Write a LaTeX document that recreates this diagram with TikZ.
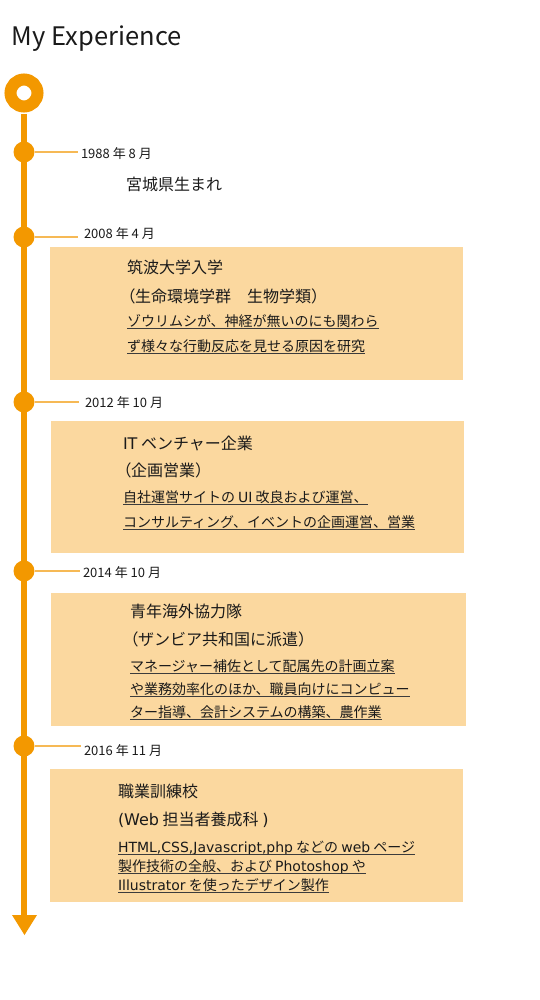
\documentclass[tikz,border=0pt]{standalone}
\usepackage{fontspec}
\setmainfont{Noto Sans CJK JP}
\newfontfamily\latfam{DejaVu Sans}
\newcommand\LatT[1]{{\latfam #1}}
\newcommand\OpenP{{\addfontfeature{RawFeature=+palt}（}}
\definecolor{orng}{HTML}{F39800}
\definecolor{boxc}{HTML}{FBD89F}
\definecolor{txt}{HTML}{1A1A1A}
\definecolor{conc}{HTML}{F6B955}
\newcommand\ULine[1]{\draw[ulline] ([yshift=-2pt]#1.base west) -- ([yshift=-2pt]#1.base east);}
\begin{document}
\begin{tikzpicture}[x=1pt,y=-1pt,
  every node/.style={inner sep=0pt, outer sep=0pt, text=txt},
  ttl/.style={anchor=base west, font=\fontsize{25.5}{30}\selectfont},
  date/.style={anchor=base west, font=\fontsize{13}{15}\selectfont},
  head/.style={anchor=base west, font=\fontsize{16}{19}\selectfont},
  body/.style={anchor=base west, font=\fontsize{14}{17}\selectfont},
  card/.style={fill=boxc},
  dot/.style={circle, fill=orng, minimum size=21pt},
  ring/.style={circle, draw=orng, line width=12pt, minimum size=27pt},
  conn/.style={draw=conc, line width=1.3pt},
  spine/.style={draw=orng, line width=6.5pt},
  ulline/.style={draw=txt!85, line width=1pt}
]
\useasboundingbox (0,0) rectangle (540,1000);

% title
\node[ttl] (title) at (12,46) {My Experience};

% cards
\path[card] (50,247) rectangle (463,380);
\path[card] (51,421) rectangle (464,553);
\path[card] (51,593) rectangle (466,726);
\path[card] (50,769) rectangle (463,902);

% spine
\coordinate (top) at (24,114);
\coordinate (tip) at (24,917);
\draw[spine] (top) -- (tip);
\fill[orng] (12,915) -- (37,915) -- (24.5,935) -- cycle;
\node[ring] (start) at (24,93) {};

% dots, connectors, dates
\foreach \i/\y/\cx in {1/152/78, 2/237/78, 3/402/79, 4/571/80, 5/746/81}{
  \coordinate (c\i) at (\cx,\y);
  \node[dot] (d\i) at (24,\y) {};
  \draw[conn] (d\i.east) -- (c\i);
}
\node[date] (t1) at (81,159) {1988 年 8 月};
\node[date] (t2) at (84,238) {2008 年 4 月};
\node[date] (t3) at (85,407) {2012 年 10 月};
\node[date] (t4) at (83,577) {2014 年 10 月};
\node[date] (t5) at (84,755) {2016 年 11 月};

% 1988
\node[head] (e1) at (126,191) {宮城県生まれ};

% 2008
\node[head] (a1) at (127,273) {筑波大学入学};
\node[head] (a2) at (127,302) {\OpenP 生命環境学群　生物学類）};
\node[body] (a3) at (127,326) {ゾウリムシが、神経が無いのにも関わら};
\node[body] (a4) at (127,351) {ず様々な行動反応を見せる原因を研究};
\ULine{a3}\ULine{a4}

% 2012
\node[head] (b1) at (123,449) {\LatT{IT} ベンチャー企業};
\node[head] (b2) at (123,476) {\OpenP 企画営業）};
\node[body] (b3) at (123,502) {自社運営サイトの \LatT{UI} 改良および運営、};
\node[body] (b4) at (123,527) {コンサルティング、イベントの企画運営、営業};
\ULine{b3}\ULine{b4}

% 2014
\node[head] (g1) at (130,617) {青年海外協力隊};
\node[head] (g2) at (130,645) {\OpenP ザンビア共和国に派遣）};
\node[body] (g3) at (130,671) {マネージャー補佐として配属先の計画立案};
\node[body] (g4) at (130,694) {や業務効率化のほか、職員向けにコンピュー};
\node[body] (g5) at (130,717) {ター指導、会計システムの構築、農作業};
\ULine{g3}\ULine{g4}\ULine{g5}

% 2016
\node[head] (h1) at (118,797) {職業訓練校};
\node[head] (h2) at (118,825) {\LatT{(Web} 担当者養成科 \LatT{)}};
\node[body] (h3) at (118,852) {\LatT{HTML,CSS,Javascript,php} などの \LatT{web} ページ};
\node[body] (h4) at (118,871) {製作技術の全般、および \LatT{Photoshop} や};
\node[body] (h5) at (118,890) {\LatT{Illustrator} を使ったデザイン製作};
\ULine{h3}\ULine{h4}\ULine{h5}
\end{tikzpicture}
\end{document}
